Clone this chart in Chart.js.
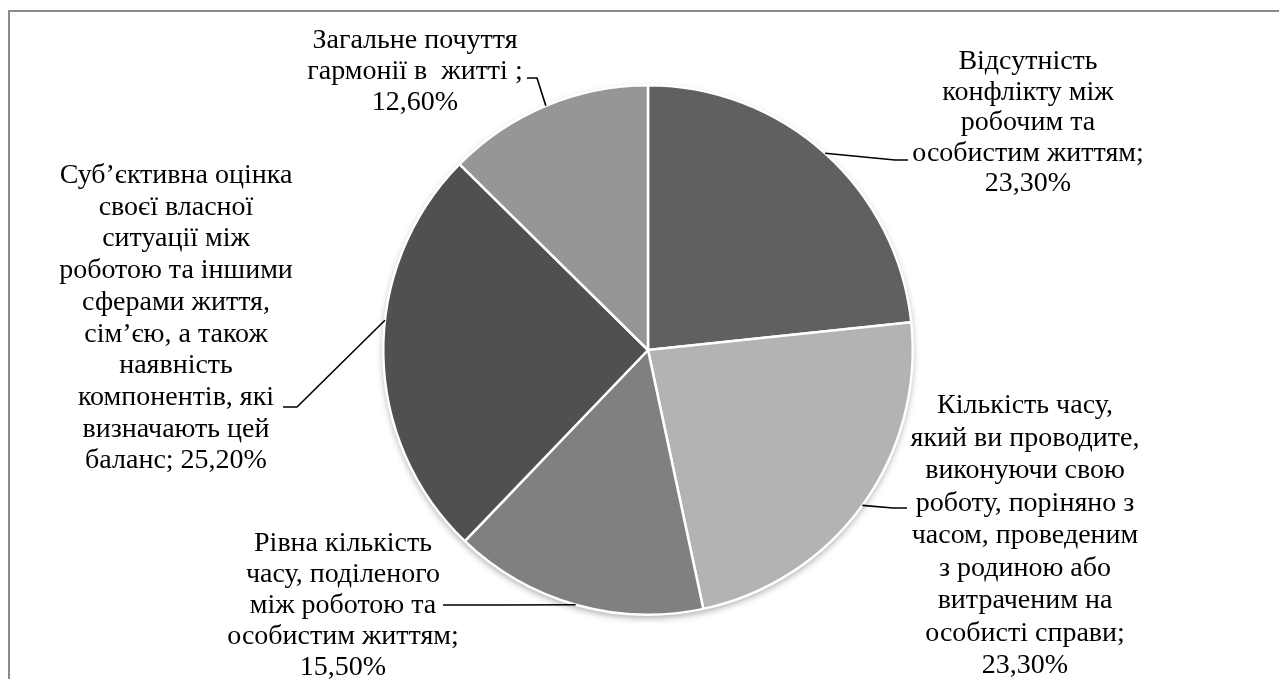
<!DOCTYPE html>
<html>
<head>
<meta charset="utf-8">
<title>Баланс між роботою та особистим життям</title>
<script src="https://cdn.jsdelivr.net/npm/chart.js@4/dist/chart.umd.min.js"></script>
<style>
  html, body { margin: 0; padding: 0; background: #fff; overflow: hidden; }
  #wrap { position: relative; width: 1279px; height: 679px; }
  #frame { position: absolute; left: 8px; top: 10px; width: 1320px; height: 720px; border: 2px solid #8a8a8a; box-sizing: border-box; }
  #c { position: absolute; left: 0; top: 0; }
</style>
</head>
<body>
<div id="wrap">
  <div id="frame"></div>
  <canvas id="c" width="1279" height="679"></canvas>
</div>
<script>
// Components of work-life balance, share of respondents (%)
const categories = [
  "Відсутність конфлікту між робочим та особистим життям",
  "Кількість часу, який ви проводите, виконуючи свою роботу, порівняно з часом, проведеним з родиною або витраченим на особисті справи",
  "Рівна кількість часу, поділеного між роботою та особистим життям",
  "Суб’єктивна оцінка своєї власної ситуації між роботою та іншими сферами життя, сім’єю, а також наявність компонентів, які визначають цей баланс",
  "Загальне почуття гармонії в житті"
];
const shares = [23.3, 23.3, 15.5, 25.2, 12.6];
const sliceColors = ["#606060", "#b3b3b3", "#808080", "#505050", "#969696"];

// Wrapped label text; {v} is replaced by the formatted share
const labelLines = [
  ["Відсутність", "конфлікту між", "робочим та", "особистим життям;", "{v}"],
  ["Кількість часу,", "який ви проводите,", "виконуючи свою", "роботу, поріняно з", "часом, проведеним", "з родиною або", "витраченим на", "особисті справи;", "{v}"],
  ["Рівна кількість", "часу, поділеного", "між роботою та", "особистим життям;", "{v}"],
  ["Суб’єктивна оцінка", "своєї власної", "ситуації між", "роботою та іншими", "сферами життя,", "сім’єю, а також", "наявність", "компонентів, які", "визначають цей", "баланс; {v}"],
  ["Загальне почуття", "гармонії в  житті ;", "{v}"]
];

// Label placement: centre x, first baseline, line step,
// where along the slice the leader touches the rim (0..1) and the leader's elbow/end points
const labelLayout = [
  { cx: 1028, y0: 69,  step: 30.5, at: 0.5,  elbow: [895, 160], end: [908, 160] },
  { cx: 1025, y0: 413, step: 32.5, at: 0.5,  elbow: [893, 508], end: [907, 508] },
  { cx: 343,  y0: 551, step: 31,   at: 0.5,  elbow: [500, 605], end: [443, 605] },
  { cx: 176,  y0: 183, step: 31.7, at: 0.58, elbow: [297, 407], end: [283, 407] },
  { cx: 415,  y0: 48,  step: 31,   at: 0.5,  elbow: [537, 78],  end: [527, 78] }
];

const fmt = v => v.toFixed(2).replace('.', ',') + '%';

const pieShadow = {
  id: 'pieShadow',
  beforeDatasetsDraw(chart) {
    const arc = chart.getDatasetMeta(0).data[0];
    if (!arc) return;
    const ctx = chart.ctx;
    ctx.save();
    ctx.shadowColor = 'rgba(0,0,0,0.35)';
    ctx.shadowBlur = 7;
    ctx.shadowOffsetY = 3;
    ctx.fillStyle = '#ffffff';
    ctx.beginPath();
    ctx.arc(arc.x, arc.y, arc.outerRadius, 0, Math.PI * 2);
    ctx.fill();
    ctx.restore();
  }
};

const calloutLabels = {
  id: 'calloutLabels',
  afterDatasetsDraw(chart) {
    const ctx = chart.ctx;
    const arcs = chart.getDatasetMeta(0).data;
    const values = chart.data.datasets[0].data;
    ctx.save();
    arcs.forEach((arc, i) => {
      const lay = labelLayout[i];
      const a = arc.startAngle + (arc.endAngle - arc.startAngle) * lay.at;
      const px = arc.x + Math.cos(a) * arc.outerRadius;
      const py = arc.y + Math.sin(a) * arc.outerRadius;
      // leader line
      ctx.strokeStyle = '#000';
      ctx.lineWidth = 1.6;
      ctx.beginPath();
      ctx.moveTo(px, py);
      ctx.lineTo(lay.elbow[0], lay.elbow[1]);
      ctx.lineTo(lay.end[0], lay.end[1]);
      ctx.stroke();
      // text
      ctx.fillStyle = '#000';
      ctx.font = '28px "Liberation Serif", "Times New Roman", serif';
      ctx.textAlign = 'center';
      ctx.textBaseline = 'alphabetic';
      labelLines[i].forEach((ln, k) => {
        ctx.fillText(ln.replace('{v}', fmt(values[i])), lay.cx, lay.y0 + k * lay.step);
      });
    });
    ctx.restore();
  }
};

new Chart(document.getElementById('c'), {
  type: 'pie',
  data: {
    labels: categories,
    datasets: [{
      data: shares,
      backgroundColor: sliceColors,
      borderColor: '#ffffff',
      borderWidth: 2.5
    }]
  },
  options: {
    responsive: false,
    animation: false,
    layout: { padding: { left: 382, right: 365, top: 84, bottom: 63 } },
    plugins: {
      legend: { display: false },
      tooltip: { enabled: false }
    }
  },
  plugins: [pieShadow, calloutLabels]
});
</script>
</body>
</html>
